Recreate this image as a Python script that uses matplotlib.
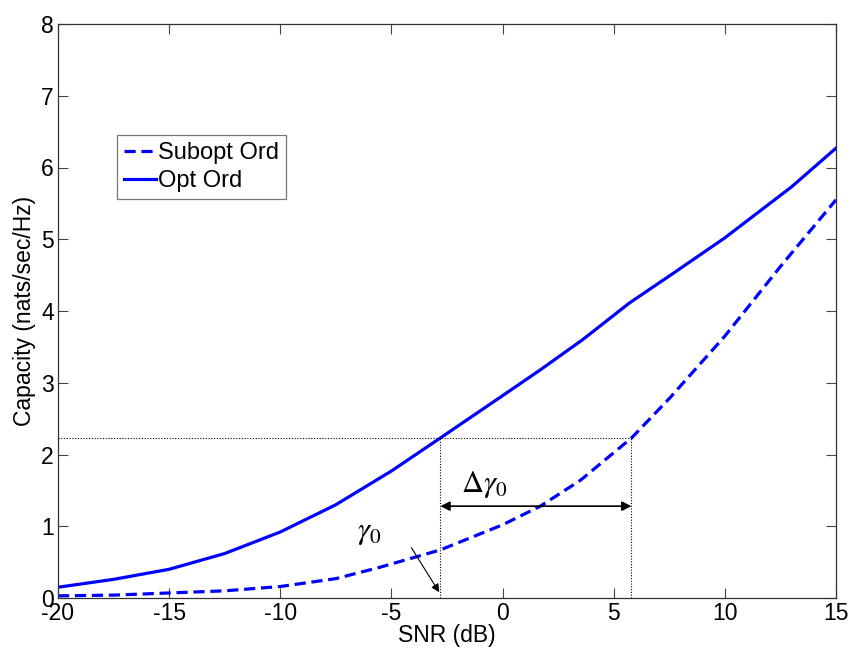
import numpy as np
import matplotlib.pyplot as plt

plt.rcParams['font.family'] = ['Liberation Sans', 'DejaVu Sans']
plt.rcParams['mathtext.fontset'] = 'stix'
plt.rcParams['axes.unicode_minus'] = False

# capacity vs SNR
snr_opt = [-20, -17.5, -15, -12.5, -10, -7.5, -5, -2.8, 0, 1.7, 3.6, 5.7, 7.7, 10, 13, 15]
cap_opt = [0.15, 0.26, 0.40, 0.62, 0.92, 1.30, 1.77, 2.23, 2.82, 3.18, 3.60, 4.11, 4.53, 5.02, 5.73, 6.27]

snr_sub = [-20, -17.5, -15, -12.5, -10, -7.5, -5.5, -2.8, 0, 1.7, 3.5, 5.8, 7.5, 10, 12.5, 15]
cap_sub = [0.03, 0.04, 0.07, 0.10, 0.16, 0.27, 0.43, 0.67, 1.02, 1.28, 1.64, 2.23, 2.78, 3.65, 4.62, 5.55]

cap_level = 2.23
gamma0 = -2.8
gamma1 = 5.8

fig = plt.figure(figsize=(8.51, 6.51), dpi=100)
ax = fig.add_axes([58 / 851, 1 - 598 / 651, 778 / 851, 574 / 651])

ax.plot(snr_sub, cap_sub, color='#0000ff', lw=2.3, ls=(0, (3.5, 1.8)), label='Subopt Ord')
ax.plot(snr_opt, cap_opt, color='#0000ff', lw=2.3, label='Opt Ord')

# dotted guides at the common capacity level
dot = dict(color='black', lw=0.8, ls=(0, (1, 1.5)))
ax.plot([-20, gamma1], [cap_level, cap_level], **dot)
ax.plot([gamma0, gamma0], [0, cap_level], **dot)
ax.plot([gamma1, gamma1], [0, cap_level], **dot)

ax.annotate('', xy=(gamma0, 1.28), xytext=(gamma1, 1.28),
            arrowprops=dict(arrowstyle='<|-|>', color='black', lw=1.2,
                            mutation_scale=14, shrinkA=0, shrinkB=0))
ax.text(-0.8, 1.36, r'$\Delta\gamma_0$', fontsize=22, ha='center', va='bottom')
ax.text(-6.0, 0.92, r'$\gamma_0$', fontsize=22, ha='center', va='center')
ax.annotate('', xy=(gamma0 - 0.05, 0.08), xytext=(-4.1, 0.70),
            arrowprops=dict(arrowstyle='-|>', color='black', lw=0.8,
                            mutation_scale=12, shrinkA=0, shrinkB=0))

ax.set_xlim(-20, 15)
ax.set_ylim(0, 8)
ax.set_xticks(np.arange(-20, 16, 5))
ax.set_yticks(np.arange(0, 9, 1))
ax.tick_params(direction='in', length=7, width=0.8, color='#444444',
               labelsize=16.5, top=True, right=True, pad=3)
for s in ax.spines.values():
    s.set_color('#333333')
    s.set_linewidth(0.9)

ax.set_xlabel('SNR (dB)', fontsize=16.5, labelpad=-1)
ax.set_ylabel('Capacity (nats/sec/Hz)', fontsize=16.5, labelpad=4)

leg = ax.legend(loc='upper left', bbox_to_anchor=(59 / 778, 1 - 111 / 574),
                fontsize=17, frameon=True, fancybox=False, handlelength=1.35,
                handletextpad=0.1, borderpad=0.3, labelspacing=0.25, borderaxespad=0)
leg.get_frame().set_edgecolor('#555555')
leg.get_frame().set_linewidth(0.9)

fig.savefig('out.png', dpi=100)
